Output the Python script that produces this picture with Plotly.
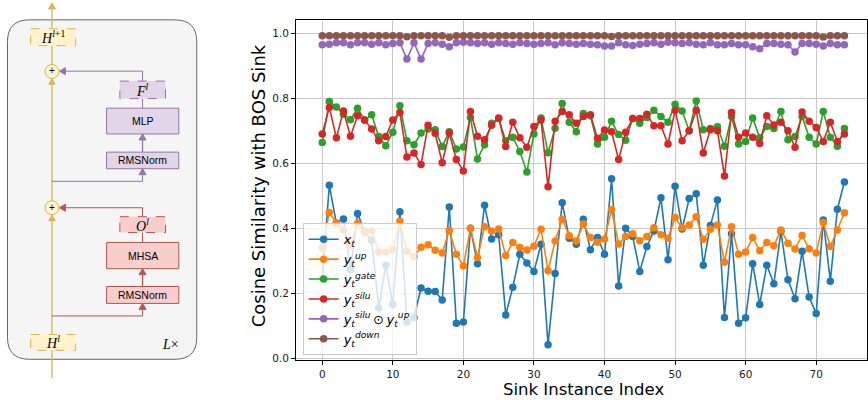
import plotly.graph_objects as go

# ---------------- data ----------------
idx = list(range(75))

x_t = [0.245, 0.533, 0.415, 0.429, 0.272, 0.446, 0.390, 0.364, 0.155, 0.286,
       0.165, 0.451, 0.111, 0.125, 0.216, 0.206, 0.205, 0.179, 0.466, 0.107,
       0.111, 0.400, 0.291, 0.471, 0.367, 0.380, 0.133, 0.218, 0.320, 0.293,
       0.267, 0.351, 0.041, 0.261, 0.479, 0.369, 0.351, 0.428, 0.334, 0.372,
       0.320, 0.553, 0.222, 0.400, 0.375, 0.267, 0.344, 0.392, 0.494, 0.303,
       0.530, 0.398, 0.492, 0.507, 0.286, 0.409, 0.487, 0.125, 0.383, 0.107,
       0.124, 0.291, 0.165, 0.286, 0.229, 0.390, 0.241, 0.183, 0.329, 0.188,
       0.137, 0.426, 0.237, 0.459, 0.543]

y_up = [0.339, 0.449, 0.417, 0.395, 0.347, 0.415, 0.387, 0.392, 0.327, 0.327,
        0.334, 0.422, 0.329, 0.313, 0.342, 0.349, 0.332, 0.324, 0.393, 0.320,
        0.284, 0.400, 0.310, 0.405, 0.392, 0.398, 0.316, 0.356, 0.341, 0.333,
        0.345, 0.397, 0.269, 0.361, 0.428, 0.377, 0.361, 0.413, 0.372, 0.357,
        0.367, 0.458, 0.352, 0.375, 0.383, 0.362, 0.375, 0.402, 0.380, 0.369,
        0.433, 0.402, 0.410, 0.436, 0.366, 0.397, 0.410, 0.295, 0.405, 0.320,
        0.327, 0.372, 0.331, 0.356, 0.346, 0.395, 0.354, 0.336, 0.378, 0.337,
        0.324, 0.418, 0.344, 0.395, 0.448]

y_gate = [0.665, 0.791, 0.774, 0.752, 0.735, 0.770, 0.734, 0.750, 0.683, 0.655,
          0.696, 0.778, 0.670, 0.658, 0.694, 0.706, 0.704, 0.652, 0.698, 0.645,
          0.651, 0.742, 0.614, 0.658, 0.724, 0.739, 0.670, 0.681, 0.637, 0.574,
          0.691, 0.740, 0.633, 0.709, 0.785, 0.727, 0.698, 0.754, 0.747, 0.660,
          0.681, 0.730, 0.689, 0.672, 0.739, 0.724, 0.742, 0.764, 0.745, 0.727,
          0.783, 0.762, 0.701, 0.793, 0.704, 0.708, 0.713, 0.653, 0.745, 0.660,
          0.668, 0.740, 0.679, 0.714, 0.708, 0.760, 0.673, 0.683, 0.745, 0.681,
          0.660, 0.760, 0.681, 0.653, 0.708]

y_silu = [0.691, 0.773, 0.679, 0.762, 0.684, 0.747, 0.734, 0.706, 0.670, 0.683,
          0.734, 0.757, 0.620, 0.632, 0.597, 0.718, 0.693, 0.602, 0.694, 0.612,
          0.577, 0.760, 0.684, 0.673, 0.718, 0.740, 0.652, 0.727, 0.679, 0.650,
          0.714, 0.734, 0.528, 0.730, 0.760, 0.750, 0.724, 0.745, 0.750, 0.678,
          0.703, 0.698, 0.612, 0.696, 0.739, 0.739, 0.752, 0.716, 0.716, 0.660,
          0.764, 0.670, 0.701, 0.764, 0.632, 0.704, 0.701, 0.561, 0.757, 0.681,
          0.694, 0.681, 0.662, 0.747, 0.719, 0.727, 0.701, 0.650, 0.759, 0.730,
          0.711, 0.668, 0.727, 0.668, 0.691]

y_silu_up = [0.966, 0.968, 0.972, 0.972, 0.966, 0.972, 0.972, 0.968, 0.972, 0.966,
             0.970, 0.972, 0.922, 0.972, 0.922, 0.970, 0.972, 0.968, 0.960, 0.972,
             0.974, 0.972, 0.970, 0.972, 0.968, 0.972, 0.970, 0.968, 0.972, 0.970,
             0.968, 0.970, 0.972, 0.966, 0.972, 0.970, 0.968, 0.970, 0.968, 0.966,
             0.962, 0.962, 0.972, 0.966, 0.964, 0.968, 0.970, 0.972, 0.968, 0.974,
             0.972, 0.970, 0.972, 0.968, 0.966, 0.972, 0.966, 0.966, 0.970, 0.966,
             0.966, 0.960, 0.954, 0.970, 0.970, 0.968, 0.966, 0.944, 0.970, 0.970,
             0.968, 0.962, 0.970, 0.966, 0.966]

y_down = [0.994, 0.994, 0.994, 0.994, 0.994, 0.994, 0.994, 0.994, 0.994, 0.994,
          0.994, 0.994, 0.991, 0.994, 0.994, 0.994, 0.994, 0.994, 0.989, 0.994,
          0.994, 0.994, 0.994, 0.994, 0.994, 0.994, 0.994, 0.994, 0.994, 0.994,
          0.994, 0.994, 0.994, 0.994, 0.994, 0.994, 0.994, 0.994, 0.994, 0.994,
          0.994, 0.992, 0.994, 0.994, 0.994, 0.994, 0.994, 0.994, 0.994, 0.994,
          0.994, 0.994, 0.994, 0.994, 0.994, 0.994, 0.994, 0.994, 0.994, 0.994,
          0.994, 0.994, 0.994, 0.994, 0.994, 0.994, 0.994, 0.994, 0.994, 0.994,
          0.994, 0.990, 0.994, 0.994, 0.994]

series_names = [
    "<i>x</i><sub><i>t</i></sub>",
    "<i>y</i><sub><i>t</i></sub><sup><i>up</i></sup>",
    "<i>y</i><sub><i>t</i></sub><sup><i>gate</i></sup>",
    "<i>y</i><sub><i>t</i></sub><sup><i>silu</i></sup>",
    "<i>y</i><sub><i>t</i></sub><sup><i>silu</i></sup>\u2009⊙\u2009<i>y</i><sub><i>t</i></sub><sup><i>up</i></sup>",
    "<i>y</i><sub><i>t</i></sub><sup><i>down</i></sup>",
]
series_vals = [x_t, y_up, y_gate, y_silu, y_silu_up, y_down]
colors = ["#1f77b4", "#ff7f0e", "#2ca02c", "#d62728", "#9467bd", "#8c564b"]

x_ticks = [0, 10, 20, 30, 40, 50, 60, 70]
y_ticks = [0.0, 0.2, 0.4, 0.6, 0.8, 1.0]
y_ticktext = ["0.0", "0.2", "0.4", "0.6", "0.8", "1.0"]

W, H = 868, 400
fig = go.Figure()

for name, vals, c in zip(series_names, series_vals, colors):
    fig.add_trace(go.Scatter(
        x=idx, y=vals, name=name, mode="lines+markers",
        line=dict(color=c, width=1.6),
        marker=dict(color=c, size=7.5),
        xaxis="x", yaxis="y"))

# ---------------- diagram helpers (pixel coordinates on x2/y2) ----------------
shapes = []
annos = []

def line(x0, y0, x1, y1, color, width=1.0):
    shapes.append(dict(type="line", xref="x2", yref="y2", x0=x0, y0=y0, x1=x1, y1=y1,
                       line=dict(color=color, width=width), layer="above"))

def head(x, y, d, color, L=6.0, hw=3.5):
    if d == "up":
        p = f"M {x},{y} L {x-hw},{y+L} L {x+hw},{y+L} Z"
    else:
        p = f"M {x},{y} L {x+L},{y-hw} L {x+L},{y+hw} Z"
    shapes.append(dict(type="path", xref="x2", yref="y2", path=p,
                       fillcolor=color, line=dict(color=color, width=1), layer="above"))

def box(x0, y0, x1, y1, fill, stroke, dash="solid"):
    shapes.append(dict(type="rect", xref="x2", yref="y2", x0=x0, y0=y0, x1=x1, y1=y1,
                       fillcolor=fill, line=dict(color=stroke, width=1, dash=dash), layer="above"))

def text(x, y, s, size=10.5, family="Liberation Sans", color="#000"):
    annos.append(dict(xref="x2", yref="y2", x=x, y=y, text=s, showarrow=False,
                      font=dict(size=size, family=family, color=color),
                      xanchor="center", yanchor="middle"))

# container
x0, y0, x1, y1, r = 7.5, 20, 197, 362, 22
shapes.append(dict(type="path", xref="x2", yref="y2", layer="below",
                   path=(f"M {x0+r},{y0} L {x1-r},{y0} Q {x1},{y0} {x1},{y0+r} "
                         f"L {x1},{y1-r} Q {x1},{y1} {x1-r},{y1} L {x0+r},{y1} "
                         f"Q {x0},{y1} {x0},{y1-r} L {x0},{y0+r} Q {x0},{y0} {x0+r},{y0} Z"),
                   fillcolor="#f5f5f5", line=dict(color="#666666", width=1)))

YS, YF = "#d6b656", "#fff2cc"
PS, PF = "#9673a6", "#e1d5e7"
RS, RF = "#b85450", "#f8cecc"
cx = 52
bx = 142.7

# main residual stream
line(cx, 381, cx, 8, YS, 1.3)
head(cx, 3, "up", YS)

# purple (MLP) branch
line(cx, 182.7, bx, 182.7, PS)
line(bx, 182.7, bx, 176, PS)
head(bx, 170, "up", PS)
line(bx, 153.3, bx, 141, PS, 1.3)
head(bx, 135, "up", PS)
line(bx, 109, bx, 99.3, PS)
line(bx, 81.7, bx, 71.7, PS)
line(bx, 71.7, 65, 71.7, PS)
head(59.5, 71.7, "left", PS)
box(106.7, 153.3, 179, 170, PF, PS)
box(106.7, 109, 179, 135, PF, PS)
box(120, 81.7, 165.7, 99.3, PF, PS, "dash")

# red (attention) branch
line(cx, 318.3, bx, 318.3, RS)
line(bx, 318.3, bx, 311.7, RS)
head(bx, 305.7, "up", RS)
line(bx, 288.7, bx, 276.7, RS, 1.3)
head(bx, 270.7, "up", RS)
line(bx, 244.3, bx, 234.3, RS)
line(bx, 218.3, bx, 209.3, RS)
line(bx, 209.3, 65, 209.3, RS)
head(59.5, 209.3, "left", RS)
box(106.7, 288.7, 179, 305.7, RF, RS)
box(106.7, 244.3, 179, 270.7, RF, RS)
box(120, 218.3, 165.7, 234.3, RF, RS, "dash")

# yellow boxes and adders
box(30.7, 29, 75.7, 46, YF, YS, "dash")
box(30.7, 337, 75.7, 353, YF, YS, "dash")
for cy in (72, 209.3):
    shapes.append(dict(type="circle", xref="x2", yref="y2", x0=cx-7, y0=cy-7, x1=cx+7, y1=cy+7,
                       fillcolor=YF, line=dict(color=YS, width=1), layer="above"))
    head(cx, cy + 7.5, "up", YS, L=5.5, hw=3.2)
    text(cx, cy - 0.5, "+", size=10, family="Liberation Sans")

serif = "Liberation Serif"
text(53, 37.5, "<i>H</i><sup><i>l</i>+1</sup>", 14, serif)
text(53, 345, "<i>H</i><sup><i>l</i></sup>", 14, serif)
text(143, 90.5, "<i>F</i><sup><i>l</i></sup>", 14, serif)
text(143, 226.3, "<i>O</i><sup><i>l</i></sup>", 14, serif)
text(143, 122, "MLP")
text(143, 161.7, "RMSNorm")
text(143, 257.5, "MHSA")
text(143, 297.2, "RMSNorm")
text(171, 346.7, "<i>L</i>×", 14, serif)

# axis titles
annos.append(dict(xref="paper", yref="paper", x=584/W, y=1-392.5/H, text="Sink Instance Index",
                  showarrow=False, font=dict(size=16.5, family="DejaVu Sans", color="#000"),
                  xanchor="center", yanchor="middle"))
annos.append(dict(xref="paper", yref="paper", x=259/W, y=1-187/H,
                  text="Cosine Similarity with BOS Sink", textangle=-90,
                  showarrow=False, font=dict(size=18, family="DejaVu Sans", color="#000"),
                  xanchor="center", yanchor="middle"))

axis_common = dict(showgrid=True, gridcolor="#c8c8c8", gridwidth=1, zeroline=False,
                   showline=True, mirror=True, linecolor="#000", linewidth=1,
                   ticks="outside", ticklen=4, tickcolor="#000",
                   tickfont=dict(size=10.5, family="DejaVu Sans", color="#222"))

fig.update_layout(
    width=W, height=H,
    margin=dict(l=0, r=0, t=0, b=0),
    paper_bgcolor="white", plot_bgcolor="white",
    font=dict(family="DejaVu Sans"),
    xaxis=dict(domain=[296.5/W, 1.0], range=[-3.7, 77.2], tickvals=x_ticks, anchor="y", **axis_common),
    yaxis=dict(domain=[1-363/H, 1-20/H], range=[-0.007, 1.043], tickvals=y_ticks,
               ticktext=y_ticktext, anchor="x", **axis_common),
    xaxis2=dict(domain=[0, 200/W], range=[0, 200], visible=False, anchor="y2", fixedrange=True),
    yaxis2=dict(domain=[0, 1], range=[400, 0], visible=False, anchor="x2", fixedrange=True),
    shapes=shapes,
    annotations=annos,
    showlegend=True,
    legend=dict(x=303/W, y=1-225/H, xanchor="left", yanchor="top",
                bgcolor="rgba(255,255,255,0.8)", bordercolor="#cccccc", borderwidth=1,
                font=dict(size=13, family="DejaVu Sans", color="#000"),
                itemwidth=30, tracegroupgap=0),
)

fig.write_html("out.html")
